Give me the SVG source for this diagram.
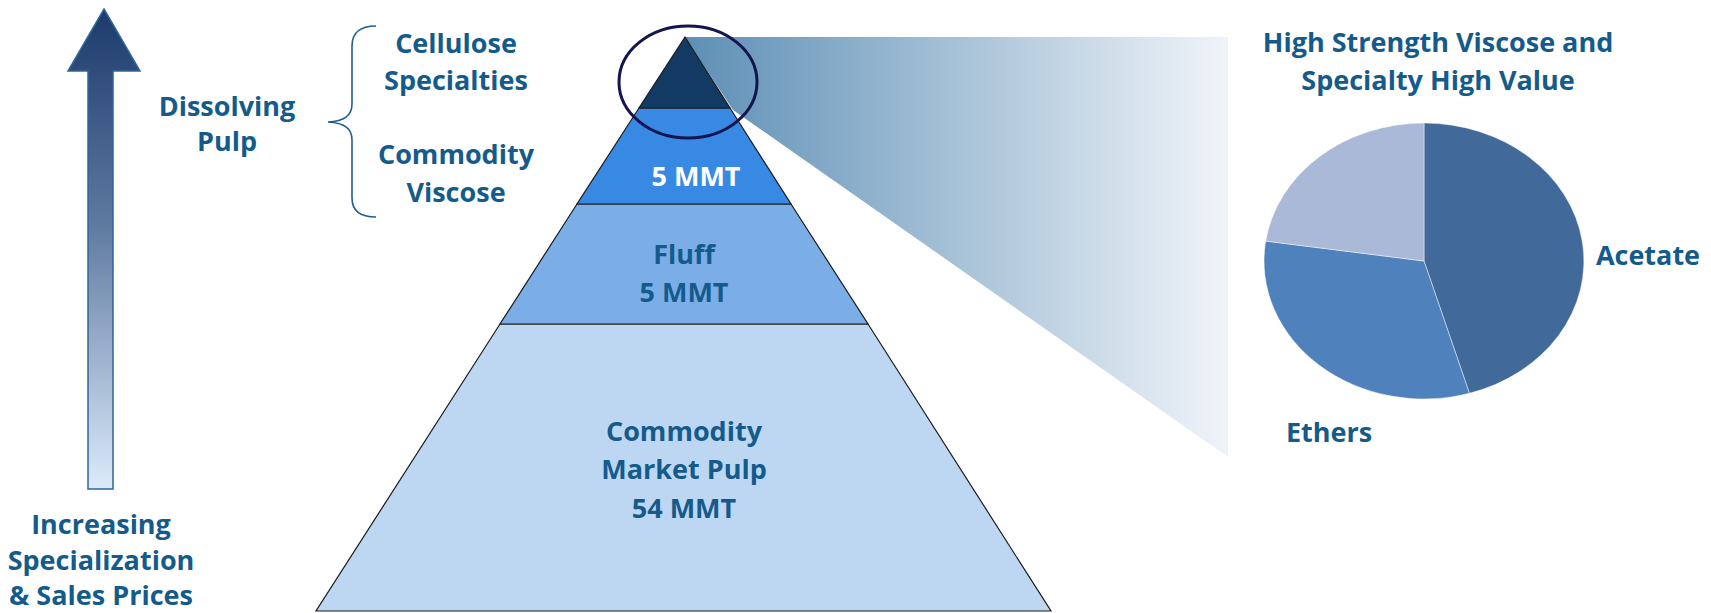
<svg xmlns="http://www.w3.org/2000/svg" width="1711" height="613" viewBox="0 0 1711 613">
  <defs>
    <linearGradient id="arrowFill" x1="0" y1="9" x2="0" y2="489" gradientUnits="userSpaceOnUse">
      <stop offset="0" stop-color="#1c3a6c"/>
      <stop offset="0.45" stop-color="#5f7aa0"/>
      <stop offset="1" stop-color="#dcebfb"/>
    </linearGradient>
    <linearGradient id="fanFill" x1="685" y1="0" x2="1228" y2="0" gradientUnits="userSpaceOnUse">
      <stop offset="0" stop-color="#5d8fb5"/>
      <stop offset="1" stop-color="#f0f4f9"/>
    </linearGradient>
    <style>
      .lbl { font-family: "Open Sans", "Liberation Sans", sans-serif; font-weight: bold; font-size: 27px; fill: #145b8c; text-anchor: middle; }
      .white { fill: #ffffff; }
      .band { stroke: #1a1a1a; stroke-width: 1.2; }
      .slice { stroke: #ffffff; stroke-opacity: 0.45; stroke-width: 1; }
    </style>
  </defs>

  <rect width="1711" height="613" fill="#ffffff"/>

  <!-- upward arrow: increasing specialization -->
  <g id="scale-arrow">
    <path d="M104,9 L140,71 L113,71 L113,489 L88,489 L88,71 L68,71 Z" fill="url(#arrowFill)" stroke="#2c6797" stroke-width="1.5" stroke-linejoin="miter"/>
    <text class="lbl" x="101" y="534">Increasing</text>
    <text class="lbl" x="101" y="570">Specialization</text>
    <text class="lbl" x="101" y="605">&amp; Sales Prices</text>
  </g>

  <!-- dissolving pulp grouping -->
  <g id="dissolving-pulp">
    <text class="lbl" x="227" y="116">Dissolving</text>
    <text class="lbl" x="227" y="151">Pulp</text>
  </g>

  <g id="connectors">
    <!-- curly brace joining the two dissolving pulp grades -->
    <path d="M376,26 C360,26 352,32 352,46 L352,104 C352,116 344,121 328,122 C344,123 352,128 352,140 L352,198 C352,211 360,217 376,217" fill="none" stroke="#1f5f8f" stroke-width="1.6"/>
    <!-- projection from the pyramid tip to the pie -->
    <polygon id="zoom-fan" points="685,37 1228,37 1228,457 733,110" fill="url(#fanFill)"/>
  </g>

  <g id="cellulose-specialties">
    <text class="lbl" x="456" y="53">Cellulose</text>
    <text class="lbl" x="456" y="90">Specialties</text>
  </g>
  <g id="commodity-viscose">
    <text class="lbl" x="456" y="164">Commodity</text>
    <text class="lbl" x="456" y="202">Viscose</text>
  </g>

  <!-- pyramid bands, bottom to top -->
  <g id="tier-market-pulp">
    <polygon class="band" points="500,324 868,324 1051,611 316,611" fill="#bdd7f3"/>
    <text class="lbl" x="684" y="441">Commodity</text>
    <text class="lbl" x="684" y="479">Market Pulp</text>
    <text class="lbl" x="684" y="518">54 MMT</text>
  </g>
  <g id="tier-fluff">
    <polygon class="band" points="577,204 791,204 868,324 500,324" fill="#7baee7"/>
    <text class="lbl" x="684" y="264">Fluff</text>
    <text class="lbl" x="684" y="302">5 MMT</text>
  </g>
  <g id="tier-viscose">
    <polygon class="band" points="639,108 730,108 791,204 577,204" fill="#3789e4"/>
    <text class="lbl white" x="696" y="186">5 MMT</text>
  </g>
  <g id="tier-specialties">
    <polygon class="band" points="685,37 730,108 639,108" fill="#133a62"/>
  </g>

  <!-- highlight ring around the tip -->
  <g id="tip-ring">
    <ellipse cx="688" cy="82" rx="69" ry="56" fill="none" stroke="#14144f" stroke-width="3"/>
  </g>

  <!-- pie of the high value segment -->
  <g id="value-pie">
    <text class="lbl" x="1438" y="52">High Strength Viscose and</text>
    <text class="lbl" x="1438" y="90">Specialty High Value</text>
    <path class="slice" d="M1424,261 L1424,123 A160,138 0 0 1 1469.4,393.3 Z" fill="#416a9b"/>
    <path class="slice" d="M1424,261 L1469.4,393.3 A160,138 0 0 1 1265.7,241.1 Z" fill="#4f81bd"/>
    <path class="slice" d="M1424,261 L1265.7,241.1 A160,138 0 0 1 1424,123 Z" fill="#aab9d7"/>
  </g>
  <g id="label-acetate">
    <text class="lbl" x="1648" y="265">Acetate</text>
  </g>
  <g id="label-ethers">
    <text class="lbl" x="1329" y="442">Ethers</text>
  </g>
</svg>
